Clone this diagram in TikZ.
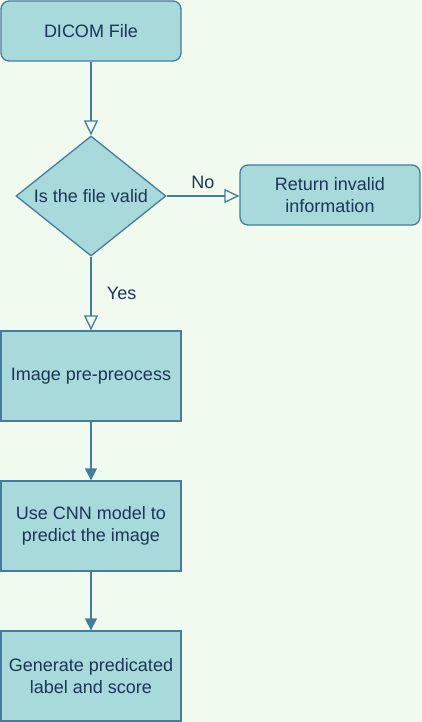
\documentclass[tikz,border=0pt]{standalone}
\usepackage{fontspec}
\setmainfont{Liberation Sans}
\usepackage{tikz}
\usetikzlibrary{shapes.geometric}
\usetikzlibrary{arrows.meta}
\usepackage{xcolor}
\definecolor{ColFill}{HTML}{A8DADC}
\definecolor{ColLine}{HTML}{457B9D}
\definecolor{ColText}{HTML}{1D3557}
\definecolor{ColBack}{HTML}{F1FAEE}
\tikzstyle{NodeBox}=[rectangle,draw=ColLine,fill=ColFill,line width=1.3pt,text=ColText,
minimum width=180pt,minimum height=90pt,align=center,font=\fontsize{18}{22}\selectfont]
\tikzstyle{NodeRound}=[NodeBox,rounded corners=8pt,minimum height=60pt]
\tikzstyle{NodeTest}=[NodeBox,diamond,aspect=1.25,inner sep=0pt,minimum width=150pt,
minimum height=120pt]
\tikzstyle{EdgeOpen}=[ColLine,line width=1.3pt,-{Triangle[open,length=15pt,width=14pt]}]
\tikzstyle{EdgeFull}=[ColLine,line width=1.3pt,-{Triangle[length=12pt,width=12pt]}]
\tikzstyle{EdgeText}=[text=ColText,font=\fontsize{18}{22}\selectfont]

\begin{document}
\begin{tikzpicture}[x=1pt,y=-1pt]
        \fill[ColBack](0,0)rectangle(422,722);
        \useasboundingbox(0,0)rectangle(422,722);
        \node[NodeRound](dicom)at(91,31){DICOM File};
        \node[NodeTest](valid)at(91,196){Is the file valid};
        \node[NodeRound](invalid)at(330,195){Return invalid\\information};
        \node[NodeBox](prep)at(91,376){Image pre-preocess};
        \node[NodeBox](cnn)at(91,526){Use CNN model to\\predict the image};
        \node[NodeBox](score)at(91,676){Generate predicated\\label and score};
        \draw[EdgeOpen](dicom)--(valid);
        \draw[EdgeOpen](valid.east)--node[EdgeText,above=3pt]{No}(invalid.west|-valid.east);
        \draw[EdgeOpen](valid)--node[EdgeText,right=12pt]{Yes}(prep);
        \draw[EdgeFull](prep)--(cnn);
        \draw[EdgeFull](cnn)--(score);
    \end{tikzpicture}
\end{document}
